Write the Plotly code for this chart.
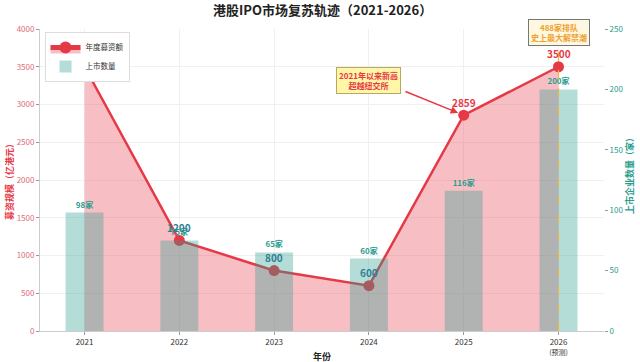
import plotly.graph_objects as go
from plotly.subplots import make_subplots

years = ["2021", "2022", "2023", "2024", "2025", "2026<br><span style='font-size:7px'>(预测)</span>"]
funds = [3500, 1200, 800, 600, 2859, 3500]
counts = [98, 75, 65, 60, 116, 200]
fund_labels = ["", "1200", "800", "600", "2859", "3500"]
count_labels = ["98家", "75家", "65家", "60家", "116家", "200家"]

RED = "#E63946"
TEAL = "#2A9D8F"
FONT = "Noto Sans CJK SC"
xs = list(range(len(years)))

fig = make_subplots(specs=[[{"secondary_y": True}]])

fig.add_trace(go.Scatter(
    x=xs, y=funds, mode="lines+markers", name="年度募资额",
    line=dict(color=RED, width=2.5),
    marker=dict(size=11, color=RED),
    fill="tozeroy", fillcolor="rgba(230,57,70,0.32)",
), secondary_y=False)

fig.add_trace(go.Bar(
    x=xs, y=counts, name="上市数量", width=0.4,
    marker=dict(color="rgba(42,157,143,0.35)", line=dict(width=0)),
    text=count_labels, texttemplate="<b>%{text}</b>", textposition="outside", cliponaxis=False,
    textfont=dict(color=TEAL, size=8, family=FONT),
), secondary_y=True)

label_colors = ["", "#2f7f93", "#2f7f93", "#2f7f93", RED, RED]
for i, (lab, c) in enumerate(zip(fund_labels, label_colors)):
    if lab:
        fig.add_annotation(x=xs[i], y=funds[i], yref="y", text=f"<b>{lab}</b>",
                           showarrow=False, yshift=13,
                           font=dict(color=c, size=10, family=FONT))

# dashed forecast line
fig.add_shape(type="line", x0=5, x1=5, y0=0, y1=1, xref="x", yref="y domain",
              line=dict(color="#E9B949", width=1.2, dash="dash"))

fig.add_annotation(x=3, y=3320, yref="y", text="<b>2021年以来新高<br>超越纽交所</b>",
                   showarrow=False, font=dict(color=RED, size=8, family=FONT),
                   bgcolor="#FFF6A8", bordercolor="#b8a860", borderwidth=1, borderpad=2)
fig.add_annotation(x=4, y=2859, ax=3.37, ay=3180, xref="x", yref="y", axref="x", ayref="y",
                   text="", showarrow=True, arrowhead=2, arrowsize=1, arrowwidth=1.5,
                   arrowcolor=RED, standoff=6)
fig.add_annotation(x=5, y=3950, yref="y", text="<b>488家排队<br>史上最大解禁潮</b>",
                   showarrow=False, font=dict(color="#F0A030", size=8, family=FONT),
                   bgcolor="#FFF8E0", bordercolor="#777777", borderwidth=1, borderpad=2)

# titles as annotations
fig.add_annotation(x=0.5, y=1.063, xref="paper", yref="paper",
                   text="<b>港股IPO市场复苏轨迹（2021-2026）</b>", showarrow=False,
                   yanchor="middle", font=dict(size=13, color="#222", family=FONT))
fig.add_annotation(x=0, xref="paper", xshift=-31, xanchor="center", y=0.5, yref="paper",
                   yanchor="middle", textangle=-90,
                   text="<b>募资规模（亿港元）</b>", showarrow=False,
                   font=dict(size=9, color=RED, family=FONT))
fig.add_annotation(x=1, xref="paper", xshift=26, xanchor="center", y=0.52, yref="paper",
                   yanchor="middle", textangle=-90,
                   text="<b>上市企业数量（家）</b>", showarrow=False,
                   font=dict(size=9, color=TEAL, family=FONT))
fig.add_annotation(x=0.5, xref="paper", y=-0.083, yref="paper",
                   text="<b>年份</b>", showarrow=False, yanchor="middle",
                   font=dict(size=9, color="#222", family=FONT))

fig.update_layout(
    width=640, height=362,
    margin=dict(l=40, r=36, t=29, b=31, autoexpand=False),
    paper_bgcolor="white", plot_bgcolor="white",
    font=dict(family=FONT, size=8, color="#333"),
    legend=dict(x=0.008, y=0.99, xanchor="left", yanchor="top", bgcolor="white",
                bordercolor="#dddddd", borderwidth=1, font=dict(size=7.5, family=FONT),
                itemsizing="constant", tracegroupgap=0, itemwidth=30),
    showlegend=True, barmode="overlay",
)

fig.update_xaxes(range=[-0.47, 5.48], tickvals=xs, ticktext=years, domain=[0, 1],
                 showgrid=True, gridcolor="#f0f0f0", gridwidth=1, automargin=False,
                 showline=True, linecolor="#cccccc", ticks="outside", ticklen=3,
                 tickcolor="#999", tickfont=dict(size=8, color="#333"),
                 zeroline=False)
fig.update_yaxes(range=[0, 4000], dtick=500, showgrid=True, gridcolor="#f0f0f0",
                 showline=True, linecolor="#cccccc", ticks="outside", ticklen=3, tickcolor="#999",
                 tickfont=dict(size=8, color="#E06A78"), zeroline=False, automargin=False,
                 secondary_y=False)
fig.update_yaxes(range=[0, 250], dtick=50, showgrid=False, showline=False,
                 ticks="outside", ticklen=3, tickcolor="#999", automargin=False,
                 tickfont=dict(size=8, color=TEAL), zeroline=False,
                 secondary_y=True)

fig.write_html("out.html", config={"displayModeBar": False},
               post_script="document.body.style.margin='0';")
